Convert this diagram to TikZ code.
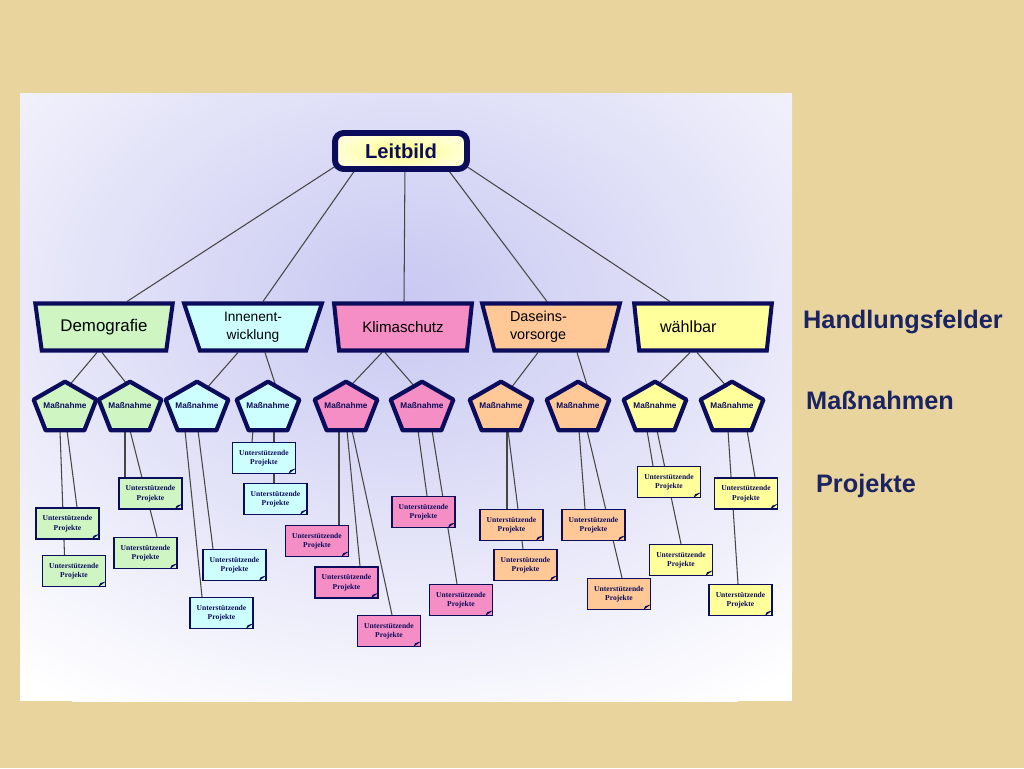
\documentclass[tikz,border=0pt]{standalone}
\usepackage{fontspec}
\setmainfont{Liberation Sans}
\newfontfamily\projfont{Liberation Serif}
\usetikzlibrary{shapes.geometric,calc}
\pgfdeclarelayer{background}
\pgfsetlayers{background,main}
\definecolor{navy}{RGB}{12,12,92}
\definecolor{labelblue}{RGB}{26,36,98}
\definecolor{beige}{RGB}{233,212,157}
\definecolor{lav}{RGB}{200,200,242}
\definecolor{grn}{RGB}{206,245,194}
\definecolor{cyn}{RGB}{206,255,255}
\definecolor{pnk}{RGB}{245,142,196}
\definecolor{org}{RGB}{255,200,150}
\definecolor{yel}{RGB}{255,255,155}
\definecolor{linegray}{RGB}{70,70,70}

\begin{document}
\begin{tikzpicture}[x=0.02cm,y=-0.02cm,
  leitbox/.style={draw=navy,line width=3.4pt,rounded corners=5pt,inner color={rgb,255:red,255;green,255;blue,135},outer color={rgb,255:red,255;green,255;blue,215},minimum width=2.64cm,minimum height=0.72cm,text=navy,font=\bfseries\fontsize{11.5}{13}\selectfont},
  feld/.style={trapezium,trapezium left angle=74,trapezium right angle=74,shape border rotate=180,trapezium stretches=true,minimum width=2.76cm,minimum height=0.94cm,draw=navy,line width=2.3pt,inner sep=0pt,align=center,font=\fontsize{8.2}{10}\selectfont},
  mass/.style={minimum width=1.24cm,minimum height=0.96cm,inner sep=0pt,text=navy,font=\bfseries\fontsize{4.7}{5.5}\selectfont},
  pentline/.style={draw=navy,line width=2.4pt,line join=round},
  proj/.style={draw=navy,line width=0.8pt,minimum width=1.26cm,minimum height=0.62cm,inner sep=0pt,align=center,text=navy,font=\projfont\bfseries\fontsize{4.3}{5.4}\selectfont},
  link/.style={draw=linegray,line width=0.6pt},
  ebene/.style={text=labelblue,font=\bfseries\fontsize{14.4}{16}\selectfont}]
\useasboundingbox (0,0) rectangle (1024,768);

\begin{pgfonlayer}{background}
\fill[beige] (0,0) rectangle (1024,768);
\fill[white] (20,93) rectangle (792,701);
\begin{scope}
\clip (20,93) rectangle (792,701);
\shade[inner color=lav,outer color=white] (405,300) ellipse [x radius=640,y radius=470];
\end{scope}
\end{pgfonlayer}

% Leitbild und Handlungsfelder
\node[leitbox] (leit) at (401,151) {Leitbild};
\node[feld,fill=grn,font=\fontsize{9.6}{11}\selectfont] (hf1) at (104,327) {Demografie};
\node[feld,fill=cyn,font=\fontsize{7.8}{10}\selectfont] (hf2) at (253,327) {Innenent-\\wicklung};
\node[feld,fill=pnk,font=\fontsize{8.6}{10}\selectfont] (hf3) at (403,327) {Klimaschutz};
\node[feld,fill=org,align=left,text width=1.64cm] (hf4) at (551,327) {Daseins-\\vorsorge};
\node[feld,fill=yel,align=left,text width=1.72cm,font=\fontsize{9.2}{10}\selectfont] (hf5) at (703,327) {wählbar};

% Massnahmen
\node[mass] (m1) at (65,406) {Maßnahme};
\node[mass] (m2) at (130,406) {Maßnahme};
\node[mass] (m3) at (197,406) {Maßnahme};
\node[mass] (m4) at (268,406) {Maßnahme};
\node[mass] (m5) at (346,406) {Maßnahme};
\node[mass] (m6) at (422,406) {Maßnahme};
\node[mass] (m7) at (501,406) {Maßnahme};
\node[mass] (m8) at (578,406) {Maßnahme};
\node[mass] (m9) at (655,406) {Maßnahme};
\node[mass] (m10) at (732,406) {Maßnahme};

% Projekte
\node[proj,fill=grn] (g1) at (67.5,523.5) {Unterstützende\\Projekte};
\node[proj,fill=grn] (g2) at (74,571) {Unterstützende\\Projekte};
\node[proj,fill=grn] (g3) at (150.5,493.5) {Unterstützende\\Projekte};
\node[proj,fill=grn] (g4) at (145.5,553) {Unterstützende\\Projekte};
\node[proj,fill=cyn] (c1) at (264,458) {Unterstützende\\Projekte};
\node[proj,fill=cyn] (c2) at (275.5,499) {Unterstützende\\Projekte};
\node[proj,fill=cyn] (c3) at (234.5,565) {Unterstützende\\Projekte};
\node[proj,fill=cyn] (c4) at (221.5,613) {Unterstützende\\Projekte};
\node[proj,fill=pnk] (k1) at (317,541) {Unterstützende\\Projekte};
\node[proj,fill=pnk] (k2) at (346.5,582.5) {Unterstützende\\Projekte};
\node[proj,fill=pnk] (k3) at (389,631) {Unterstützende\\Projekte};
\node[proj,fill=pnk] (k4) at (423.5,512) {Unterstützende\\Projekte};
\node[proj,fill=pnk] (k5) at (461,600) {Unterstützende\\Projekte};
\node[proj,fill=org] (o1) at (511.5,525) {Unterstützende\\Projekte};
\node[proj,fill=org] (o2) at (525.5,565) {Unterstützende\\Projekte};
\node[proj,fill=org] (o3) at (593.5,525) {Unterstützende\\Projekte};
\node[proj,fill=org] (o4) at (619,594) {Unterstützende\\Projekte};
\node[proj,fill=yel] (y1) at (669,482) {Unterstützende\\Projekte};
\node[proj,fill=yel] (y2) at (681,560) {Unterstützende\\Projekte};
\node[proj,fill=yel] (y3) at (746,493.5) {Unterstützende\\Projekte};
\node[proj,fill=yel] (y4) at (740.5,600) {Unterstützende\\Projekte};
\foreach \p in {g1,g2,g3,g4,c1,c2,c3,c4,k1,k2,k3,k4,k5,o1,o2,o3,o4,y1,y2,y3,y4}
  \fill[navy] ($(\p.south east)+(-8,0)$) -- ($(\p.south east)+(0,-6)$) -- ($(\p.south east)+(-6,-4)$) -- cycle;

% Ebenen rechts
\node[ebene] (lhf) at (903,322) {Handlungsfelder};
\node[ebene] (lmn) at (880,400) {Maßnahmen};
\node[ebene] (lpr) at (866,486) {Projekte};

\begin{pgfonlayer}{background}
% Leitbild -> Handlungsfelder
\foreach \b/\sx/\sy/\ex in {hf1/-56/-12/23, hf2/-41/-9/10, hf3/4/-9/1, hf4/42/-9/-4, hf5/56/-12/-33}
  \draw[link] ($(leit.south)+(\sx,\sy)$) -- ($(\b.north)+(\ex,0)$);
% Handlungsfelder -> Massnahmen
\foreach \a/\dx/\b/\ex/\ey in {hf1/-7/m1/-1/10, hf1/-2/m2/3/10, hf2/-15/m3/4/13, hf2/12/m4/10/11,
  hf3/-21/m5/-2/11, hf3/-18/m6/-2/11, hf4/-13/m7/5/13, hf4/26/m8/12/13, hf5/-13/m9/-5/11, hf5/-6/m10/0/11}
  \draw[link] ($(\a.south)+(\dx,0)$) -- ($(\b.north)+(\ex,\ey)$);
% Massnahmen -> Projekte
\foreach \a/\dx/\b/\ex in {m1/2/g1/9.5, m1/-5/g2/-9.5, m2/-5/g3/-25.5, m2/0/g4/11.5,
  m3/1/c3/-21.5, m3/-12/c4/-19.5, m4/-15/c1/-12, m4/6/c2/-1.5,
  m5/-7/k1/22, m5/1/k2/13.5, m5/6/k3/3, m6/-4/k4/3.5, m6/10/k5/-4,
  m7/6/o1/-4.5, m7/7/o2/-2.5, m8/1/o3/-8.5, m8/9/o4/3,
  m9/-8/y1/-16, m9/2/y2/0, m10/15/y3/9, m10/-4/y4/-2.5}
  \draw[link] ($(\a.south)+(\dx,0)$) -- ($(\b.north)+(\ex,0)$);
% Fuenfecke
\foreach \n/\c in {m1/grn,m2/grn,m3/cyn,m4/cyn,m5/pnk,m6/pnk,m7/org,m8/org,m9/yel,m10/yel}
  \draw[pentline,fill=\c] (\n.north) -- ($(\n.north east)+(0,18)$) -- ($(\n.south east)+(-12,0)$)
    -- ($(\n.south west)+(12,0)$) -- ($(\n.north west)+(0,18)$) -- cycle;
\end{pgfonlayer}
\end{tikzpicture}
\end{document}
